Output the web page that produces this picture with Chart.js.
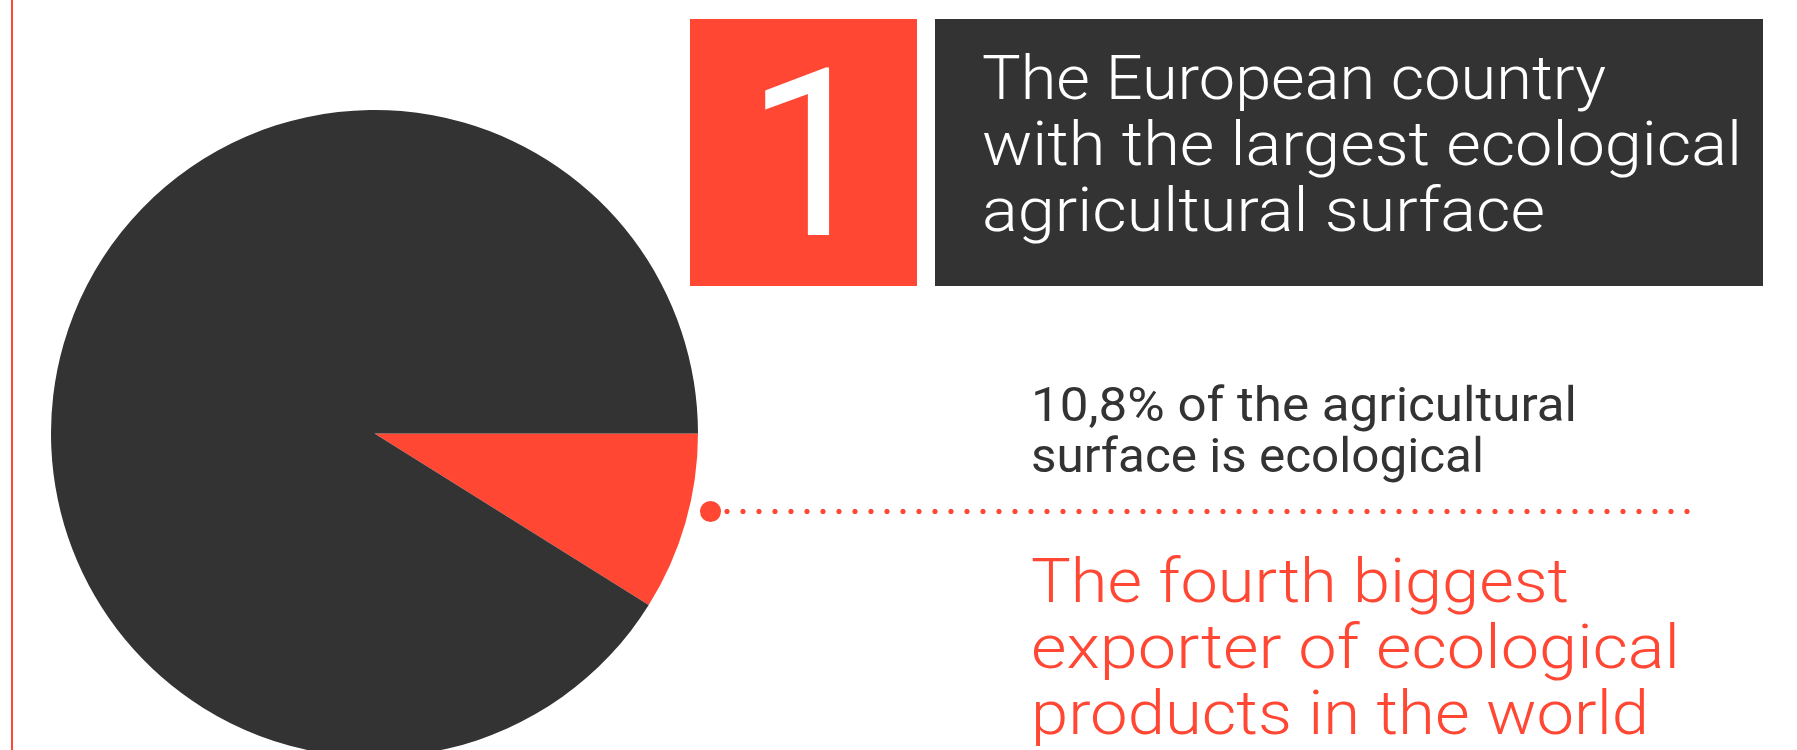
<!DOCTYPE html>
<html>
<head>
<meta charset="utf-8">
<script src="https://cdn.jsdelivr.net/npm/chart.js@4.4.0/dist/chart.umd.min.js"></script>
<style>
  html, body { margin:0; padding:0; background:#fff; }
  body { width:1797px; height:750px; overflow:hidden; position:relative; font-family: Roboto, "Noto Sans", sans-serif; }
  .edge { position:absolute; left:11px; top:0; width:2px; height:750px; background:#ff4733; }
  #pieWrap { position:absolute; left:51px; top:110px; width:647px; height:647px; }
  .rank { position:absolute; left:690px; top:19px; width:227px; height:267px; background:#ff4733; overflow:hidden; }
  .rank span { position:absolute; left:8px; width:100%; text-align:center; top:19px; font-size:234px; line-height:1; color:#fff; font-weight:400; }
  .head { position:absolute; left:935px; top:19px; width:828px; height:267px; background:#333; }
  .line { position:absolute; white-space:nowrap; transform-origin:0 0; font-weight:300; }
  .dot { position:absolute; left:700px; top:501px; width:21px; height:21px; border-radius:50%; background:#ff4733; }
  .dots { position:absolute; left:719px; top:507px; width:976px; height:9px;
          background-image: radial-gradient(circle at center, #ff4733 2.3px, rgba(255,71,51,0) 2.9px);
          background-size:16px 9px; }
</style>
</head>
<body>
<div class="edge"></div>
<div id="pieWrap"><canvas id="pie"></canvas></div>

<div class="rank"><span>1</span></div>
<div class="head"></div>

<div class="dot"></div>
<div class="dots"></div>

<script>
// values (share of agricultural surface)
const sliceLabels = ['Ecological', 'Other'];
const sliceValues = [8.9, 91.1];
const sliceColors = ['#ff4733', '#333333'];

const headLines = ['The European country', 'with the largest ecological', 'agricultural surface'];
const noteLines = ['10,8% of the agricultural', 'surface is ecological'];
const factLines = ['The fourth biggest', 'exporter of ecological', 'products in the world'];

function addLines(lines, left, firstBase, step, size, color, weight, widths){
    lines.forEach(function(t, i){
        const d = document.createElement('div');
        d.className = 'line';
        d.textContent = t;
        d.style.left = left + 'px';
        d.style.fontSize = size + 'px';
        d.style.lineHeight = size + 'px';
        d.style.fontWeight = weight;
        d.style.color = color;
        document.body.appendChild(d);
        // put baseline at the wanted y, then stretch to the measured width
        const probe = document.createElement('span');
        probe.style.display = 'inline-block';
        probe.style.height = '0';
        d.appendChild(probe);
        const base = probe.offsetTop;
        d.style.top = (firstBase + i * step - base) + 'px';
        const w = d.getBoundingClientRect().width;
        d.style.transform = 'scaleX(' + (widths[i] / w) + ')';
    });
}

addLines(headLines, 982, 99, 66, 62, '#ffffff', 300, [624, 760, 563]);
addLines(noteLines, 1031, 421, 51, 48, '#333333', 400, [546, 453]);
addLines(factLines, 1031, 602, 66, 62, '#ff4733', 300, [538, 649, 618]);

const ctx = document.getElementById('pie');
new Chart(ctx, {
    type: 'pie',
    data: {
        labels: sliceLabels,
        datasets: [{
            data: sliceValues,
            backgroundColor: sliceColors,
            borderWidth: 0
        }]
    },
    options: {
        responsive: true,
        maintainAspectRatio: false,
        animation: false,
        rotation: 90,
        layout: { padding: 0 },
        plugins: { legend: { display: false }, tooltip: { enabled: false } }
    }
});
</script>
</body>
</html>
